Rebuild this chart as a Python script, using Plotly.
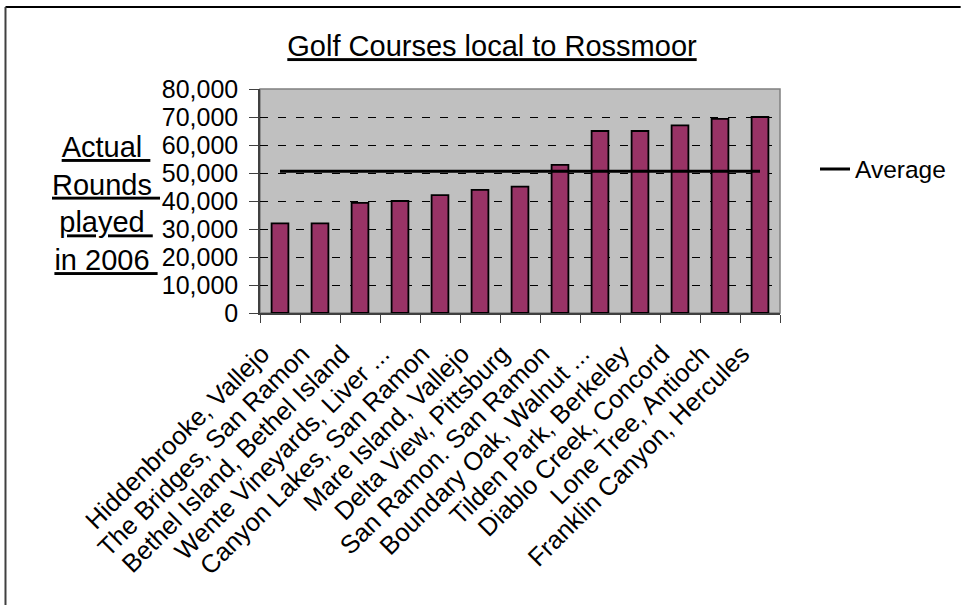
import plotly.graph_objects as go

courses = [
    "Hiddenbrooke, Vallejo",
    "The Bridges, San Ramon",
    "Bethel Island, Bethel Island",
    "Wente Vineyards, Liver ...",
    "Canyon Lakes, San Ramon",
    "Mare Island, Vallejo",
    "Delta View, Pittsburg",
    "San Ramon. San Ramon",
    "Boundary Oak, Walnut ...",
    "Tilden Park, Berkeley",
    "Diablo Creek, Concord",
    "Lone Tree, Antioch",
    "Franklin Canyon, Hercules",
]
rounds_2006 = [32000, 32000, 39300, 40000, 42100, 44000, 45100, 52900,
               65000, 65000, 67000, 69300, 70000]
average_rounds = [50600] * len(courses)

y_ticks = [0, 10000, 20000, 30000, 40000, 50000, 60000, 70000, 80000]
title_text = "Golf Courses local to Rossmoor"
y_title_lines = ["Actual ", "Rounds ", "played ", "in 2006 "]
legend_name = "Average"

FONT = "Liberation Sans, Arial, sans-serif"

fig = go.Figure()
fig.add_trace(go.Bar(
    x=courses, y=rounds_2006, name="Rounds",
    marker=dict(color="#993366", line=dict(color="black", width=1.8)),
    showlegend=False,
))
fig.add_trace(go.Scatter(
    x=courses, y=average_rounds, name=legend_name, mode="lines",
    line=dict(color="black", width=3),
))

W, H = 962, 605
L, R, T, B = 260, 781, 89, 313
pw, ph = R - L, B - T

def px_x(p):
    return (p - L) / pw

def px_y(p):
    return (B - p) / ph

fig.update_layout(
    width=W, height=H,
    margin=dict(l=L, r=W - R, t=T, b=H - B, pad=0),
    paper_bgcolor="white",
    plot_bgcolor="#C0C0C0",
    font=dict(family=FONT, color="black", size=24),
    bargap=0.58,
    title=dict(
        text="<u>" + title_text + "</u>",
        x=492 / W, xanchor="center", xref="container",
        y=1 - 46 / H, yanchor="middle", yref="container",
        font=dict(size=29, family=FONT, color="black"),
    ),
    showlegend=True,
    legend=dict(
        x=px_x(815), xanchor="left",
        y=px_y(169), yanchor="middle",
        font=dict(size=24.5, family=FONT, color="black"),
        bgcolor="rgba(0,0,0,0)",
    ),
    xaxis=dict(
        type="category",
        tickangle=-45,
        tickfont=dict(size=25.5, family=FONT, color="black"),
        ticks="outside", ticklen=8, tickwidth=1, tickcolor="#404040",
        tickson="boundaries",
        ticklabelshift=-18, ticklabelstandoff=14,
        showline=True, linecolor="#404040", linewidth=1.5,
        showgrid=False, zeroline=False,
    ),
    yaxis=dict(
        range=[0, 80000],
        tickvals=y_ticks,
        tickformat=",d",
        tickfont=dict(size=25, family=FONT, color="black"),
        ticks="outside", ticklen=9, tickwidth=1, tickcolor="#404040",
        ticklabelstandoff=6,
        showline=True, linecolor="#404040", linewidth=1.5,
        showgrid=True, gridcolor="black", gridwidth=1, griddash="8px,10px",
        zeroline=False,
    ),
    shapes=[
        dict(type="rect", xref="paper", yref="paper", x0=0, x1=1, y0=0, y1=1,
             line=dict(color="#808080", width=1.5), layer="below"),
        dict(type="line", xref="paper", yref="paper",
             x0=px_x(5), x1=px_x(962), y0=px_y(7), y1=px_y(7),
             line=dict(color="black", width=2)),
        dict(type="line", xref="paper", yref="paper",
             x0=px_x(5), x1=px_x(5), y0=px_y(7), y1=px_y(605),
             line=dict(color="#404040", width=2)),
    ],
    annotations=[
        dict(text="<br>".join("<u>" + s + "</u>" for s in y_title_lines),
             xref="paper", yref="paper",
             x=px_x(106), y=px_y(203), xanchor="center", yanchor="middle",
             align="center", showarrow=False,
             font=dict(size=29, family=FONT, color="black")),
    ],
)

fig.write_html("out.html", config={"displayModeBar": False},
               post_script="document.body.style.margin='0';")
